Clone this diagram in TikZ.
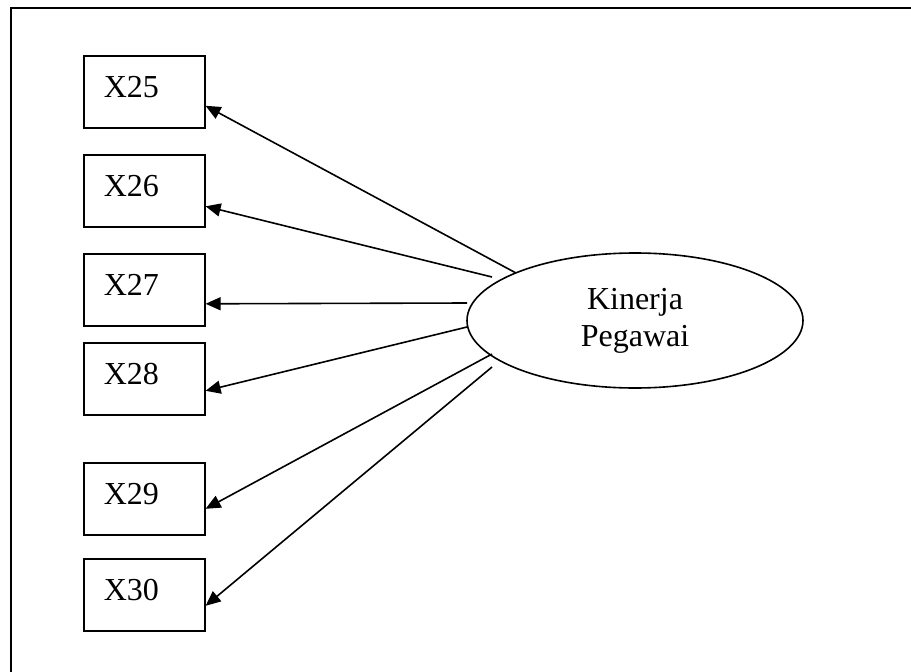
\documentclass[tikz,border=0pt]{standalone}
\usepackage{fontspec}
\setmainfont{Liberation Serif}
\usetikzlibrary{arrows.meta,shapes.geometric}
\begin{document}
\begin{tikzpicture}[x=1pt,y=-1pt,
  frameline/.style={line width=2.2pt},
  obsbox/.style={draw, line width=1.6pt, rectangle, anchor=north west,
    inner xsep=20pt, inner ysep=0pt, text width=81pt, align=left,
    text height=42pt, text depth=30pt,
    font=\fontsize{32}{37}\selectfont},
  latent/.style={draw, line width=1.6pt, ellipse, inner sep=0pt,
    minimum width=336pt, minimum height=135pt, align=center,
    font=\fontsize{32}{37}\selectfont},
  arr/.style={line width=1.6pt, -{Triangle[length=15pt,width=13pt]}}]
\useasboundingbox (0,0) rectangle (911,672);
\fill[white] (0,0) rectangle (911,672);
% outer frame (open at right and bottom, cropped)
\coordinate (fbl) at (11,672);
\coordinate (ftl) at (11,8);
\coordinate (ftr) at (911,8);
\draw[frameline] (fbl) -- (ftl) -- (ftr);
% indicator boxes
\node[obsbox] (x25) at (83,55) {X25};
\node[obsbox] (x26) at (83,154) {X26};
\node[obsbox] (x27) at (83,253) {X27};
\node[obsbox] (x28) at (83,342) {X28};
\node[obsbox] (x29) at (83,462) {X29};
\node[obsbox] (x30) at (83,558) {X30};
% latent variable
\node[latent] (kp) at (635,320.5) {Kinerja\\Pegawai};
% start points of the connectors
\coordinate (s25) at (516,273);
\coordinate (s26) at (492,277);
\coordinate (s27) at (467,303);
\coordinate (s28) at (467,327);
\coordinate (s29) at (492,354);
\coordinate (s30) at (492,367);
\draw[arr] (s25) -- ([yshift=-14pt]x25.east);
\draw[arr] (s26) -- ([yshift=-15.5pt]x26.east);
\draw[arr] (s27) -- ([yshift=-14pt]x27.east);
\draw[arr] (s28) -- ([yshift=-12pt]x28.east);
\draw[arr] (s29) -- ([yshift=-10pt]x29.east);
\draw[arr] (s30) -- ([yshift=-11pt]x30.east);
\end{tikzpicture}
\end{document}
